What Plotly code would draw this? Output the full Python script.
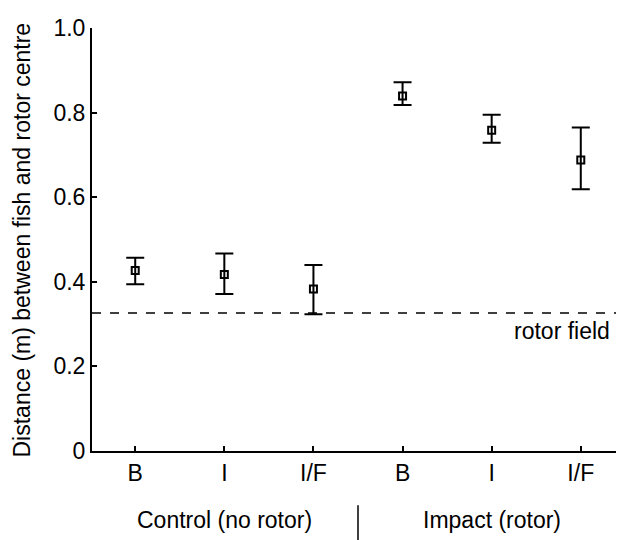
import plotly.graph_objects as go

# Data
categories = ["B", "I", "I/F", "B", "I", "I/F"]
groups = ["Control (no rotor)", "Impact (rotor)"]
means = [0.427, 0.417, 0.383, 0.839, 0.758, 0.688]
err_upper = [0.457, 0.467, 0.440, 0.872, 0.795, 0.765]
err_lower = [0.394, 0.371, 0.323, 0.818, 0.729, 0.619]
rotor_field = 0.326
y_ticks = [0, 0.2, 0.4, 0.6, 0.8, 1.0]
y_tick_text = ["0", "0.2", "0.4", "0.6", "0.8", "1.0"]

x_pos = list(range(len(categories)))
plus = [u - m for u, m in zip(err_upper, means)]
minus = [m - l for m, l in zip(means, err_lower)]

FONT = "Liberation Sans, Arial, sans-serif"
FS = 23

fig = go.Figure()
fig.add_trace(go.Scatter(
    x=x_pos, y=means, mode="markers",
    marker=dict(symbol="square-open", size=7, color="black", line=dict(width=2, color="black")),
    error_y=dict(type="data", symmetric=False, array=plus, arrayminus=minus,
                 color="black", thickness=2, width=9),
    showlegend=False,
))

x_min, x_max = -0.485, 5.485
fig.add_shape(type="line", xref="x", yref="y", x0=x_min, x1=x_max,
              y0=rotor_field, y1=rotor_field,
              line=dict(color="black", width=1.5, dash="dash"))
fig.add_annotation(x=x_max, y=rotor_field, xref="x", yref="y", text="rotor field",
                   showarrow=False, xanchor="right", yanchor="top", xshift=-12, yshift=-3,
                   font=dict(family=FONT, size=FS, color="black"))

# Group labels
fig.add_annotation(x=1, y=-0.163, xref="x", yref="paper", text=groups[0], showarrow=False,
                   yanchor="middle", font=dict(family=FONT, size=FS, color="black"))
fig.add_annotation(x=4, y=-0.163, xref="x", yref="paper", text=groups[1], showarrow=False,
                   yanchor="middle", font=dict(family=FONT, size=FS, color="black"))
fig.add_shape(type="line", xref="x", yref="paper", x0=2.5, x1=2.5, y0=-0.128, y1=-0.215,
              line=dict(color="black", width=1.5))

# Y-axis title as rotated annotation
fig.add_annotation(x=-0.1316, y=0.5, xref="paper", yref="paper",
                   text="Distance (m) between fish and rotor centre", textangle=-90,
                   showarrow=False, xanchor="center", yanchor="middle",
                   font=dict(family=FONT, size=FS, color="black"))

fig.update_layout(
    width=624, height=540,
    margin=dict(l=84, r=8, t=7, b=97),
    paper_bgcolor="white", plot_bgcolor="white",
    font=dict(family=FONT, size=FS, color="black"),
    xaxis=dict(range=[x_min, x_max], tickmode="array", tickvals=x_pos, ticktext=categories,
               showline=True, linecolor="black", linewidth=2, ticks="inside", ticklen=5,
               tickcolor="black", tickwidth=1.5, showgrid=False, zeroline=False,
               tickfont=dict(family=FONT, size=FS, color="black")),
    yaxis=dict(range=[0, 1.0], tickmode="array", tickvals=y_ticks, ticktext=y_tick_text,
               showline=True, linecolor="black", linewidth=2, ticks="inside", ticklen=5,
               tickcolor="black", tickwidth=1.5, showgrid=False, zeroline=False,
               ticklabeloverflow="allow",
               tickfont=dict(family=FONT, size=FS, color="black")),
)

fig.write_html("out.html")
